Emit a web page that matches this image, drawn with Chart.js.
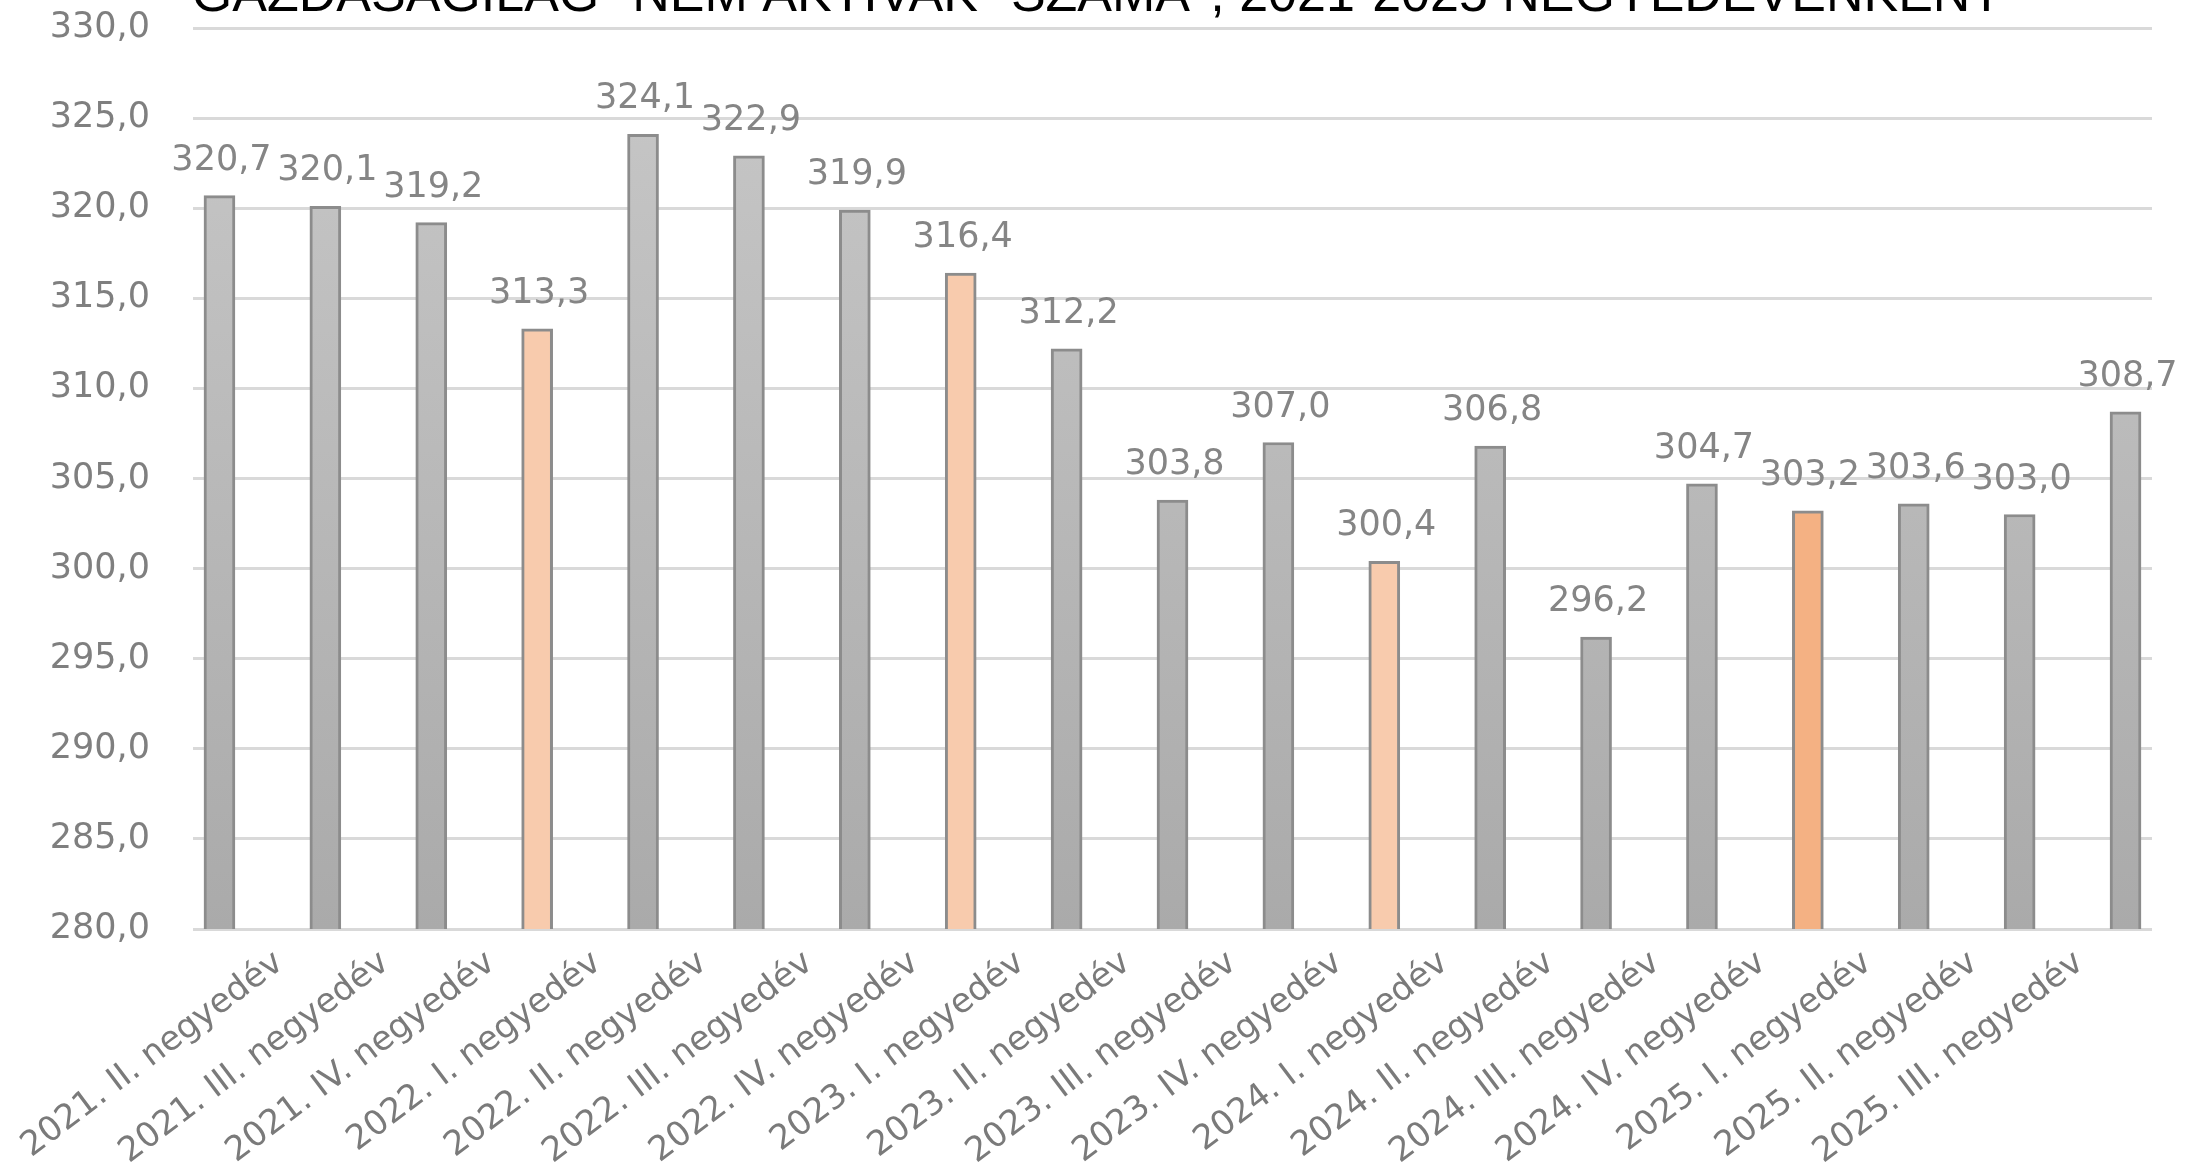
<!DOCTYPE html>
<html>
<head>
<meta charset="utf-8">
<script src="https://cdn.jsdelivr.net/npm/chart.js@4.4.1/dist/chart.umd.min.js"></script>
<style>
  html, body { margin: 0; padding: 0; background: #fff; overflow: hidden; }
  #page { width: 2191px; height: 1167px; position: relative; overflow: hidden; }
  /* the source picture is cropped through the title, so the canvas starts above the page */
  #wrap { width: 2191px; height: 1203px; position: absolute; left: 0; top: -36px; }
</style>
</head>
<body>
<div id="page"><div id="wrap"><canvas id="inaktivChart"></canvas></div></div>
<script>
// Categories (quarters) - the last bar has no label in the source picture
const quarters = [
  '2021. II. negyedév', '2021. III. negyedév', '2021. IV. negyedév',
  '2022. I. negyedév', '2022. II. negyedév', '2022. III. negyedév', '2022. IV. negyedév',
  '2023. I. negyedév', '2023. II. negyedév', '2023. III. negyedév', '2023. IV. negyedév',
  '2024. I. negyedév', '2024. II. negyedév', '2024. III. negyedév', '2024. IV. negyedév',
  '2025. I. negyedév', '2025. II. negyedév', '2025. III. negyedév', ''
];
// Economically inactive, thousand persons
const inactive = [
  320.7, 320.1, 319.2,
  313.3, 324.1, 322.9, 319.9,
  316.4, 312.2, 303.8, 307.0,
  300.4, 306.8, 296.2, 304.7,
  303.2, 303.6, 303.0, 308.7
];
const yTicks = [280, 285, 290, 295, 300, 305, 310, 315, 320, 325, 330];

const titleText = 'GAZDASÁGILAG "NEM AKTÍVAK" SZÁMA*, 2021-2025 NEGYEDÉVENKÉNT';

// highlighted bars (first quarters)
const lightOrangeIdx = [3, 7, 11];
const darkOrangeIdx = [15];

const fmt = (v) => v.toFixed(1).replace('.', ',');

// Value labels above bars
const valueLabels = {
  id: 'valueLabels',
  afterDatasetsDraw(chart) {
    const ctx = chart.ctx;
    const meta = chart.getDatasetMeta(0);
    ctx.save();
    ctx.font = '35px "DejaVu Sans"';
    ctx.fillStyle = '#858585';
    ctx.textAlign = 'center';
    ctx.textBaseline = 'middle';
    meta.data.forEach((bar, i) => {
      ctx.fillText(fmt(inactive[i]), bar.x + 2, bar.y - 35);
    });
    ctx.restore();
  }
};

const ctxInactive = document.getElementById('inaktivChart').getContext('2d');
new Chart(ctxInactive, {
  type: 'bar',
  data: {
    datasets: [{
      label: 'Gazdaságilag nem aktívak',
      data: inactive.map((v, i) => ({ x: i, y: v })),
      backgroundColor: (context) => {
        const i = context.dataIndex;
        if (lightOrangeIdx.includes(i)) return '#f8cbad';
        if (darkOrangeIdx.includes(i)) return '#f4b183';
        const area = context.chart.chartArea;
        if (!area) return '#bcbcbc';
        const g = context.chart.ctx.createLinearGradient(0, area.top, 0, area.bottom);
        g.addColorStop(0, '#c8c8c8');
        g.addColorStop(1, '#aaaaaa');
        return g;
      },
      borderColor: '#8c8c8c',
      borderWidth: 3,
      borderSkipped: false,
      barThickness: 31
    }]
  },
  options: {
    responsive: true,
    maintainAspectRatio: false,
    animation: false,
    layout: {
      padding: { top: 0, left: 42, right: 39, bottom: 0 }
    },
    scales: {
      x: {
        type: 'linear',
        offset: false,
        bounds: 'data',
        min: -0.25,
        max: 18.25,
        afterBuildTicks: (scale) => {
          scale.ticks = quarters.map((q, i) => ({ value: i }));
        },
        afterFit: (scale) => {
          scale.height = 238;
          scale.paddingLeft = 0;
          scale.paddingRight = 0;
        },
        grid: { display: false },
        border: { display: false },
        ticks: {
          autoSkip: false,
          minRotation: 37,
          maxRotation: 37,
          labelOffset: 60,
          padding: 6,
          color: '#7a7a7a',
          font: { family: '"DejaVu Sans"', size: 34 },
          callback: (value) => quarters[value] ?? ''
        }
      },
      y: {
        min: 280,
        max: 330,
        afterBuildTicks: (scale) => {
          scale.ticks = yTicks.map((v) => ({ value: v }));
        },
        afterFit: (scale) => {
          scale.width = 151;
        },
        grid: { color: '#d9d9d9', lineWidth: 3, drawTicks: false },
        border: { display: false },
        ticks: {
          padding: 43,
          color: '#7f7f7f',
          font: { family: '"DejaVu Sans"', size: 35 },
          callback: (value) => fmt(value)
        }
      }
    },
    plugins: {
      legend: { display: false },
      tooltip: { enabled: false },
      title: {
        display: true,
        text: titleText,
        color: '#000000',
        padding: { top: 0, bottom: 1 },
        font: { family: '"Liberation Sans"', size: 52, weight: 'normal', lineHeight: 1.15 }
      }
    }
  },
  plugins: [valueLabels]
});
</script>
</body>
</html>
